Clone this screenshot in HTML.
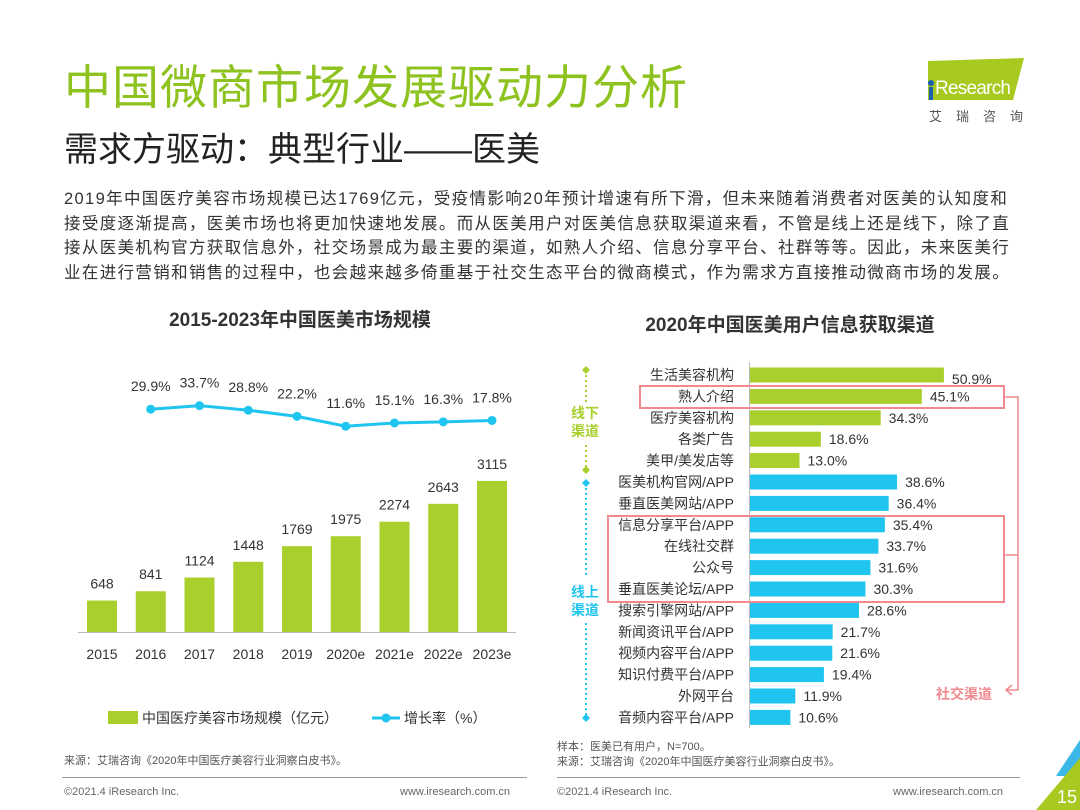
<!DOCTYPE html>
<html><head><meta charset="utf-8">
<style>
body{margin:0;width:1080px;height:810px;background:#fff;overflow:hidden;position:relative;font-family:"Liberation Sans","Noto Sans CJK SC",sans-serif;color:#333}
.abs{position:absolute}
</style></head><body>
<div class="abs" style="left:64px;top:58px;font-size:47px;color:#8dc21f;letter-spacing:1px;line-height:60px">中国微商市场发展驱动力分析</div>
<div class="abs" style="left:64px;top:126px;font-size:34px;color:#222;line-height:48px">需求方驱动：典型行业——医美</div>
<div class="abs" style="left:893px;top:55px;width:140px;height:70px">
<svg width="140" height="70"><polygon points="35,6 131,3 120,45 35,45" fill="#a8c920"/><circle cx="38" cy="28" r="3" fill="#1f5fb0"/><rect x="36" y="32" width="4" height="13" fill="#1f5fb0"/>
<text x="42" y="39" font-size="19" fill="#fff" font-family="Liberation Sans" textLength="76">Research</text>
<text x="36" y="66" font-size="13" fill="#555" letter-spacing="14" font-family="Noto Sans CJK SC">艾瑞咨询</text></svg></div>
<div class="abs" style="left:64px;top:187px;font-size:16.5px;line-height:24.5px;color:#333;white-space:nowrap;letter-spacing:1.35px">2019年中国医疗美容市场规模已达1769亿元，受疫情影响20年预计增速有所下滑，但未来随着消费者对医美的认知度和<br>接受度逐渐提高，医美市场也将更加快速地发展。而从医美用户对医美信息获取渠道来看，不管是线上还是线下，除了直<br>接从医美机构官方获取信息外，社交场景成为最主要的渠道，如熟人介绍、信息分享平台、社群等等。因此，未来医美行<br>业在进行营销和销售的过程中，也会越来越多倚重基于社交生态平台的微商模式，作为需求方直接推动微商市场的发展。</div>
<div class="abs" style="left:60px;top:305px;width:480px;text-align:center;font-size:19px;font-weight:bold">2015-2023年中国医美市场规模</div>
<div class="abs" style="left:560px;top:310px;width:460px;text-align:center;font-size:19px;font-weight:bold">2020年中国医美用户信息获取渠道</div>
<svg class="abs" style="left:0;top:0" width="1080" height="810" id="charts"></svg>
<div class="abs" style="left:64px;top:752px;font-size:11px;color:#555">来源：艾瑞咨询《2020年中国医疗美容行业洞察白皮书》。</div>
<div class="abs" style="left:557px;top:740px;font-size:11px;color:#555;line-height:15px">样本：医美已有用户，N=700。<br>来源：艾瑞咨询《2020年中国医疗美容行业洞察白皮书》。</div>
<div class="abs" style="left:62px;top:777px;width:465px;height:1px;background:#999"></div>
<div class="abs" style="left:557px;top:777px;width:463px;height:1px;background:#999"></div>
<div class="abs" style="left:64px;top:786px;font-size:11px;color:#666">©2021.4 iResearch Inc.</div>
<div class="abs" style="left:400px;top:786px;font-size:11px;color:#666">www.iresearch.com.cn</div>
<div class="abs" style="left:557px;top:786px;font-size:11px;color:#666">©2021.4 iResearch Inc.</div>
<div class="abs" style="left:893px;top:786px;font-size:11px;color:#666">www.iresearch.com.cn</div>
<svg class="abs" style="left:1030px;top:740px" width="50" height="70"><polygon points="50,0 50,36 26,36" fill="#3bb8e8"/><polygon points="50,18 50,70 6,70" fill="#a8c920"/><text x="27" y="63" font-size="18" fill="#fff" font-family="Liberation Sans">15</text></svg>
<script>
const years=['2015','2016','2017','2018','2019','2020e','2021e','2022e','2023e'];
const marketSize=[648,841,1124,1448,1769,1975,2274,2643,3115];
const growth=[29.9,33.7,28.8,22.2,11.6,15.1,16.3,17.8];
const channels=['生活美容机构','熟人介绍','医疗美容机构','各类广告','美甲/美发店等','医美机构官网/APP','垂直医美网站/APP','信息分享平台/APP','在线社交群','公众号','垂直医美论坛/APP','搜索引擎网站/APP','新闻资讯平台/APP','视频内容平台/APP','知识付费平台/APP','外网平台','音频内容平台/APP'];
const shares=[50.9,45.1,34.3,18.6,13.0,38.6,36.4,35.4,33.7,31.6,30.3,28.6,21.7,21.6,19.4,11.9,10.6];
const offlineCount=5;
const NS='http://www.w3.org/2000/svg';
const svg=document.getElementById('charts');
function mk(t,a,txt){const e=document.createElementNS(NS,t);for(const k in a)e.setAttribute(k,a[k]);if(txt!=null)e.textContent=txt;svg.appendChild(e);return e;}
const G='#a8cf2c',B='#1fc5ef';
const xL=i=>102+i*48.75, yB=v=>632-v*0.0485, yG=v=>437-v*0.93;
mk('line',{x1:78,x2:516,y1:632.5,y2:632.5,stroke:'#bbb'});
years.forEach((y,i)=>{
 const b=mk('rect',{x:xL(i)-15,y:yB(marketSize[i]),width:30,height:632-yB(marketSize[i]),fill:G});
 
 const t=mk('text',{x:xL(i),y:yB(marketSize[i])-12,'text-anchor':'middle','font-size':14,fill:'#333'},marketSize[i]);
 
 const l=mk('text',{x:xL(i),y:659,'text-anchor':'middle','font-size':14,fill:'#333'},y);
 
});
let d='';growth.forEach((g,k)=>{d+=(k?'L':'M')+xL(k+1)+','+yG(g);});
const ln=mk('path',{d:d,fill:'none',stroke:B,'stroke-width':3});

growth.forEach((g,k)=>{
 const c=mk('circle',{cx:xL(k+1),cy:yG(g),r:4.5,fill:B});
 
 const t=mk('text',{x:xL(k+1),y:yG(g)-18,'text-anchor':'middle','font-size':14,fill:'#333'},g.toFixed(1)+'%');
 
});
mk('rect',{x:108,y:711,width:30,height:13,fill:G});
mk('text',{x:142,y:723,'font-size':14,fill:'#333'},'中国医疗美容市场规模（亿元）');
mk('line',{x1:372,x2:400,y1:718,y2:718,stroke:B,'stroke-width':3});
mk('circle',{cx:386,cy:718,r:4.5,fill:B});
mk('text',{x:404,y:723,'font-size':14,fill:'#333'},'增长率（%）');
const x0=750, xR=v=>x0+v*3.81, yR=i=>375+i*21.4;
channels.forEach((c,i)=>{
 const col=i<offlineCount?G:B;
 const r=mk('rect',{x:x0,y:yR(i)-7.5,width:xR(shares[i])-x0,height:15,fill:col});
 
 const lb=mk('text',{x:734,y:yR(i)+5,'text-anchor':'end','font-size':14,fill:'#333'},c);
 
 const v=mk('text',{x:xR(shares[i])+8,y:yR(i)+(i==0?9:5),'font-size':14,fill:'#333'},shares[i].toFixed(1)+'%');
 
});
mk('line',{x1:749.5,x2:749.5,y1:362,y2:728,stroke:'#bbb'});
const P='#f08a8f';
mk('rect',{x:640,y:386,width:364,height:22,fill:'none',stroke:P,'stroke-width':2});
mk('rect',{x:608,y:516,width:396,height:86,fill:'none',stroke:P,'stroke-width':2});
mk('path',{d:'M1004,397H1018V690H1006M1004,555H1018M1012,685L1006,690L1012,695',fill:'none',stroke:P,'stroke-width':1.5});
mk('text',{x:936,y:699,'font-size':14,fill:P,'font-weight':'bold'},'社交渠道');
mk('line',{x1:586,x2:586,y1:370,y2:470,stroke:G,'stroke-width':2,'stroke-dasharray':'2,3'});
mk('rect',{x:572,y:402,width:30,height:40,fill:'#fff'});
mk('text',{x:571,y:418,'font-size':14,fill:G,'font-weight':'bold'},'线下');
mk('text',{x:571,y:436,'font-size':14,fill:G,'font-weight':'bold'},'渠道');
mk('line',{x1:586,x2:586,y1:483,y2:718,stroke:B,'stroke-width':2,'stroke-dasharray':'2,3'});
mk('rect',{x:572,y:578,width:30,height:42,fill:'#fff'});
mk('text',{x:571,y:597,'font-size':14,fill:B,'font-weight':'bold'},'线上');
mk('text',{x:571,y:615,'font-size':14,fill:B,'font-weight':'bold'},'渠道');
[[370,G],[470,G],[483,B],[718,B]].forEach(([y,c])=>mk('polygon',{points:`586,${y-4} 590,${y} 586,${y+4} 582,${y}`,fill:c}));
</script>
</body></html>
